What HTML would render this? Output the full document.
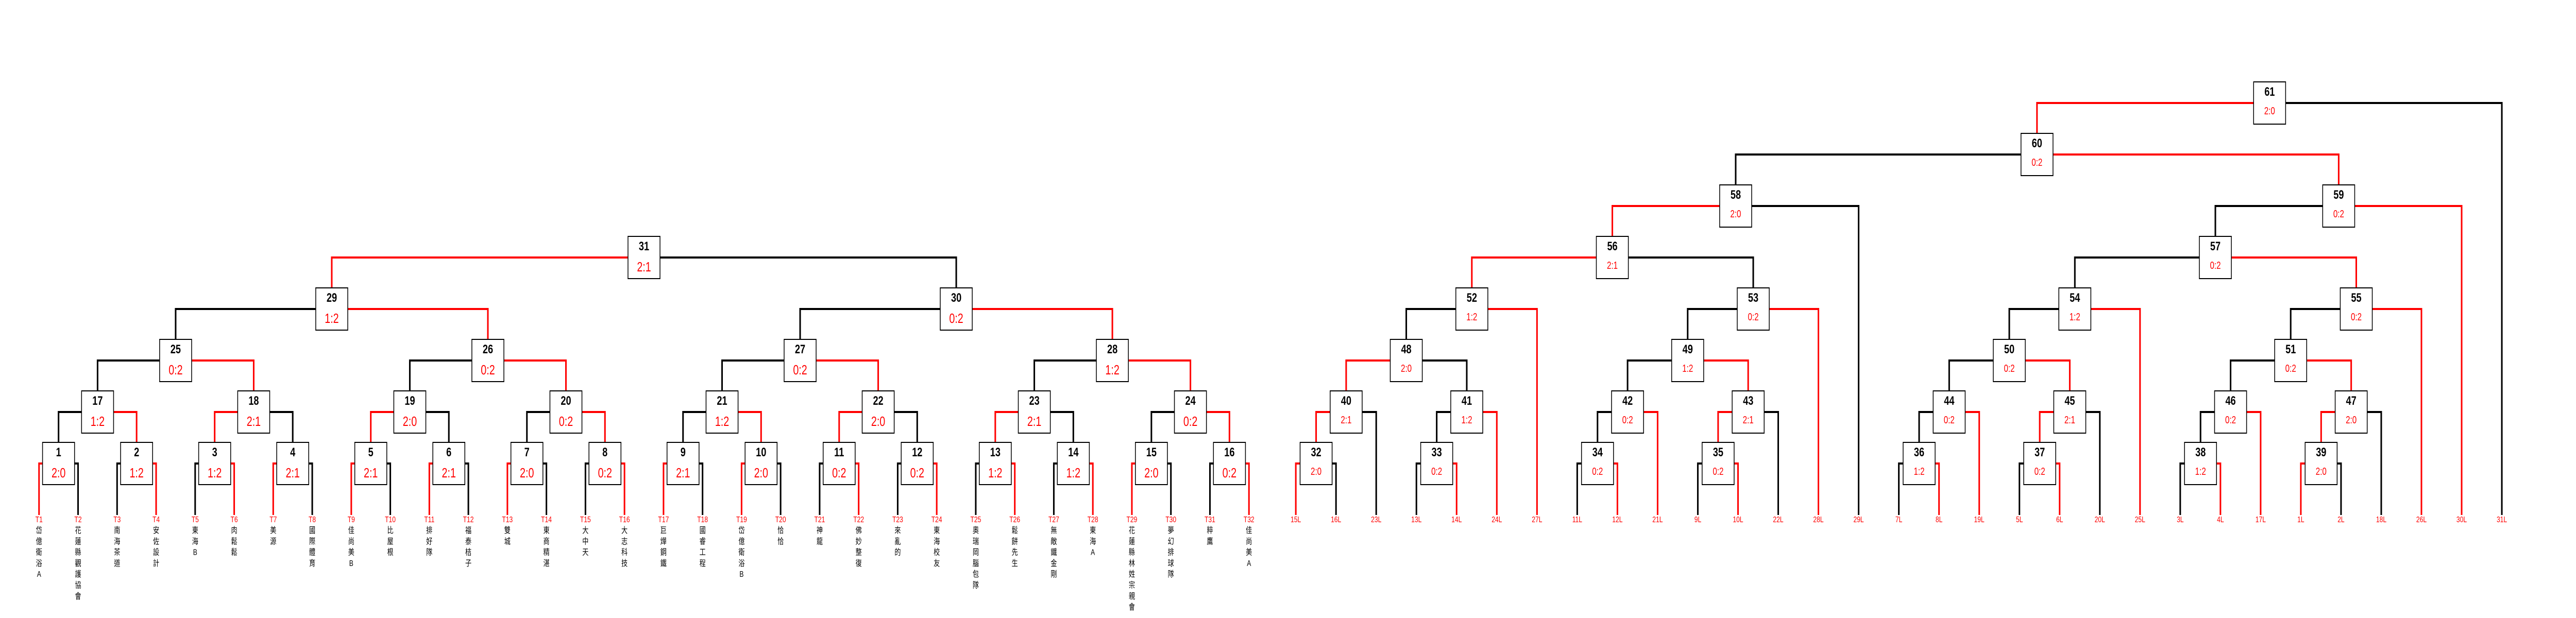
<!DOCTYPE html>
<html><head><meta charset="utf-8"><style>
html,body{margin:0;padding:0;background:#fff;width:100%;height:100%;overflow:hidden;}
svg{position:fixed;left:0;top:0;width:100vw;height:100vh;display:block;}
.k{fill:none;stroke:#000;stroke-width:4;}
.r{fill:none;stroke:#f00;stroke-width:4;}
rect{fill:#fff;stroke:#000;stroke-width:2;}
.n{font:bold 24px "Liberation Sans",sans-serif;fill:#000;text-anchor:middle;}
.s{font:26px "Liberation Sans",sans-serif;fill:#f00;text-anchor:middle;}
.s2{font:20px "Liberation Sans",sans-serif;fill:#f00;text-anchor:middle;}
.t{font:16px "Liberation Sans",sans-serif;fill:#f00;text-anchor:middle;}
.c{font-size:16px;font-family:"Liberation Sans","Noto Sans CJK TC",sans-serif;fill:#000;text-anchor:middle;}
</style></head><body>
<svg viewBox="0 0 6600 1200" preserveAspectRatio="none" xmlns="http://www.w3.org/2000/svg">
<rect x="0" y="0" width="6600" height="1200" style="fill:#fff;stroke:none"/>
<path class="r" d="M109 900H100V1000"/><path class="k" d="M191 900H200V1000"/>
<path class="k" d="M309 900H300V1000"/><path class="r" d="M391 900H400V1000"/>
<path class="k" d="M509 900H500V1000"/><path class="r" d="M591 900H600V1000"/>
<path class="r" d="M709 900H700V1000"/><path class="k" d="M791 900H800V1000"/>
<path class="r" d="M909 900H900V1000"/><path class="k" d="M991 900H1000V1000"/>
<path class="r" d="M1109 900H1100V1000"/><path class="k" d="M1191 900H1200V1000"/>
<path class="r" d="M1309 900H1300V1000"/><path class="k" d="M1391 900H1400V1000"/>
<path class="k" d="M1509 900H1500V1000"/><path class="r" d="M1591 900H1600V1000"/>
<path class="r" d="M1709 900H1700V1000"/><path class="k" d="M1791 900H1800V1000"/>
<path class="r" d="M1909 900H1900V1000"/><path class="k" d="M1991 900H2000V1000"/>
<path class="k" d="M2109 900H2100V1000"/><path class="r" d="M2191 900H2200V1000"/>
<path class="k" d="M2309 900H2300V1000"/><path class="r" d="M2391 900H2400V1000"/>
<path class="k" d="M2509 900H2500V1000"/><path class="r" d="M2591 900H2600V1000"/>
<path class="k" d="M2709 900H2700V1000"/><path class="r" d="M2791 900H2800V1000"/>
<path class="r" d="M2909 900H2900V1000"/><path class="k" d="M2991 900H3000V1000"/>
<path class="k" d="M3109 900H3100V1000"/><path class="r" d="M3191 900H3200V1000"/>
<path class="k" d="M209 800H150V859"/><path class="r" d="M291 800H350V859"/>
<path class="r" d="M609 800H550V859"/><path class="k" d="M691 800H750V859"/>
<path class="r" d="M1009 800H950V859"/><path class="k" d="M1091 800H1150V859"/>
<path class="k" d="M1409 800H1350V859"/><path class="r" d="M1491 800H1550V859"/>
<path class="k" d="M1809 800H1750V859"/><path class="r" d="M1891 800H1950V859"/>
<path class="r" d="M2209 800H2150V859"/><path class="k" d="M2291 800H2350V859"/>
<path class="r" d="M2609 800H2550V859"/><path class="k" d="M2691 800H2750V859"/>
<path class="k" d="M3009 800H2950V859"/><path class="r" d="M3091 800H3150V859"/>
<path class="k" d="M409 700H250V759"/><path class="r" d="M491 700H650V759"/>
<path class="k" d="M1209 700H1050V759"/><path class="r" d="M1291 700H1450V759"/>
<path class="k" d="M2009 700H1850V759"/><path class="r" d="M2091 700H2250V759"/>
<path class="k" d="M2809 700H2650V759"/><path class="r" d="M2891 700H3050V759"/>
<path class="k" d="M809 600H450V659"/><path class="r" d="M891 600H1250V659"/>
<path class="k" d="M2409 600H2050V659"/><path class="r" d="M2491 600H2850V659"/>
<path class="r" d="M1609 500H850V559"/><path class="k" d="M1691 500H2450V559"/>
<path class="r" d="M3331 900H3320V1000"/><path class="k" d="M3413 900H3423V1000"/>
<path class="k" d="M3640 900H3629V1000"/><path class="r" d="M3722 900H3732V1000"/>
<path class="k" d="M4052 900H4041V1000"/><path class="r" d="M4134 900H4144V1000"/>
<path class="k" d="M4361 900H4350V1000"/><path class="r" d="M4443 900H4453V1000"/>
<path class="k" d="M4876 900H4865V1000"/><path class="r" d="M4958 900H4968V1000"/>
<path class="k" d="M5185 900H5174V1000"/><path class="r" d="M5267 900H5277V1000"/>
<path class="k" d="M5597 900H5586V1000"/><path class="r" d="M5679 900H5689V1000"/>
<path class="r" d="M5906 900H5895V1000"/><path class="k" d="M5988 900H5998V1000"/>
<path class="r" d="M3408 800H3372V859"/><path class="k" d="M3490 800H3526V1000"/>
<path class="k" d="M3717 800H3681V859"/><path class="r" d="M3799 800H3835V1000"/>
<path class="k" d="M4129 800H4093V859"/><path class="r" d="M4211 800H4247V1000"/>
<path class="r" d="M4438 800H4402V859"/><path class="k" d="M4520 800H4556V1000"/>
<path class="k" d="M4953 800H4917V859"/><path class="r" d="M5035 800H5071V1000"/>
<path class="r" d="M5262 800H5226V859"/><path class="k" d="M5344 800H5380V1000"/>
<path class="k" d="M5674 800H5638V859"/><path class="r" d="M5756 800H5792V1000"/>
<path class="r" d="M5983 800H5947V859"/><path class="k" d="M6065 800H6101V1000"/>
<path class="r" d="M3562 700H3449V759"/><path class="k" d="M3644 700H3758V759"/>
<path class="k" d="M4283 700H4170V759"/><path class="r" d="M4365 700H4479V759"/>
<path class="k" d="M5107 700H4994V759"/><path class="r" d="M5189 700H5303V759"/>
<path class="k" d="M5828 700H5715V759"/><path class="r" d="M5910 700H6024V759"/>
<path class="k" d="M3730 600H3603V659"/><path class="r" d="M3812 600H3938V1000"/>
<path class="k" d="M4451 600H4324V659"/><path class="r" d="M4533 600H4659V1000"/>
<path class="k" d="M5275 600H5148V659"/><path class="r" d="M5357 600H5483V1000"/>
<path class="k" d="M5996 600H5869V659"/><path class="r" d="M6078 600H6204V1000"/>
<path class="r" d="M4090 500H3771V559"/><path class="k" d="M4172 500H4492V559"/>
<path class="k" d="M5635 500H5316V559"/><path class="r" d="M5717 500H6037V559"/>
<path class="r" d="M4406 400H4131V459"/><path class="k" d="M4488 400H4762V1000"/>
<path class="k" d="M5951 400H5676V459"/><path class="r" d="M6033 400H6307V1000"/>
<path class="k" d="M5178 300H4447V359"/><path class="r" d="M5260 300H5992V359"/>
<path class="r" d="M5774 200H5219V259"/><path class="k" d="M5856 200H6410V1000"/>

<g transform="translate(150,859)"><rect x="-41" y="0" width="82" height="82"/><text class="n" y="27">1</text><text class="s" y="68">2:0</text></g>
<g transform="translate(350,859)"><rect x="-41" y="0" width="82" height="82"/><text class="n" y="27">2</text><text class="s" y="68">1:2</text></g>
<g transform="translate(550,859)"><rect x="-41" y="0" width="82" height="82"/><text class="n" y="27">3</text><text class="s" y="68">1:2</text></g>
<g transform="translate(750,859)"><rect x="-41" y="0" width="82" height="82"/><text class="n" y="27">4</text><text class="s" y="68">2:1</text></g>
<g transform="translate(950,859)"><rect x="-41" y="0" width="82" height="82"/><text class="n" y="27">5</text><text class="s" y="68">2:1</text></g>
<g transform="translate(1150,859)"><rect x="-41" y="0" width="82" height="82"/><text class="n" y="27">6</text><text class="s" y="68">2:1</text></g>
<g transform="translate(1350,859)"><rect x="-41" y="0" width="82" height="82"/><text class="n" y="27">7</text><text class="s" y="68">2:0</text></g>
<g transform="translate(1550,859)"><rect x="-41" y="0" width="82" height="82"/><text class="n" y="27">8</text><text class="s" y="68">0:2</text></g>
<g transform="translate(1750,859)"><rect x="-41" y="0" width="82" height="82"/><text class="n" y="27">9</text><text class="s" y="68">2:1</text></g>
<g transform="translate(1950,859)"><rect x="-41" y="0" width="82" height="82"/><text class="n" y="27">10</text><text class="s" y="68">2:0</text></g>
<g transform="translate(2150,859)"><rect x="-41" y="0" width="82" height="82"/><text class="n" y="27">11</text><text class="s" y="68">0:2</text></g>
<g transform="translate(2350,859)"><rect x="-41" y="0" width="82" height="82"/><text class="n" y="27">12</text><text class="s" y="68">0:2</text></g>
<g transform="translate(2550,859)"><rect x="-41" y="0" width="82" height="82"/><text class="n" y="27">13</text><text class="s" y="68">1:2</text></g>
<g transform="translate(2750,859)"><rect x="-41" y="0" width="82" height="82"/><text class="n" y="27">14</text><text class="s" y="68">1:2</text></g>
<g transform="translate(2950,859)"><rect x="-41" y="0" width="82" height="82"/><text class="n" y="27">15</text><text class="s" y="68">2:0</text></g>
<g transform="translate(3150,859)"><rect x="-41" y="0" width="82" height="82"/><text class="n" y="27">16</text><text class="s" y="68">0:2</text></g>
<g transform="translate(250,759)"><rect x="-41" y="0" width="82" height="82"/><text class="n" y="27">17</text><text class="s" y="68">1:2</text></g>
<g transform="translate(650,759)"><rect x="-41" y="0" width="82" height="82"/><text class="n" y="27">18</text><text class="s" y="68">2:1</text></g>
<g transform="translate(1050,759)"><rect x="-41" y="0" width="82" height="82"/><text class="n" y="27">19</text><text class="s" y="68">2:0</text></g>
<g transform="translate(1450,759)"><rect x="-41" y="0" width="82" height="82"/><text class="n" y="27">20</text><text class="s" y="68">0:2</text></g>
<g transform="translate(1850,759)"><rect x="-41" y="0" width="82" height="82"/><text class="n" y="27">21</text><text class="s" y="68">1:2</text></g>
<g transform="translate(2250,759)"><rect x="-41" y="0" width="82" height="82"/><text class="n" y="27">22</text><text class="s" y="68">2:0</text></g>
<g transform="translate(2650,759)"><rect x="-41" y="0" width="82" height="82"/><text class="n" y="27">23</text><text class="s" y="68">2:1</text></g>
<g transform="translate(3050,759)"><rect x="-41" y="0" width="82" height="82"/><text class="n" y="27">24</text><text class="s" y="68">0:2</text></g>
<g transform="translate(450,659)"><rect x="-41" y="0" width="82" height="82"/><text class="n" y="27">25</text><text class="s" y="68">0:2</text></g>
<g transform="translate(1250,659)"><rect x="-41" y="0" width="82" height="82"/><text class="n" y="27">26</text><text class="s" y="68">0:2</text></g>
<g transform="translate(2050,659)"><rect x="-41" y="0" width="82" height="82"/><text class="n" y="27">27</text><text class="s" y="68">0:2</text></g>
<g transform="translate(2850,659)"><rect x="-41" y="0" width="82" height="82"/><text class="n" y="27">28</text><text class="s" y="68">1:2</text></g>
<g transform="translate(850,559)"><rect x="-41" y="0" width="82" height="82"/><text class="n" y="27">29</text><text class="s" y="68">1:2</text></g>
<g transform="translate(2450,559)"><rect x="-41" y="0" width="82" height="82"/><text class="n" y="27">30</text><text class="s" y="68">0:2</text></g>
<g transform="translate(1650,459)"><rect x="-41" y="0" width="82" height="82"/><text class="n" y="27">31</text><text class="s" y="68">2:1</text></g>

<g transform="translate(3372,859)"><rect x="-41" y="0" width="82" height="82"/><text class="n" y="27">32</text><text class="s2" y="63">2:0</text></g>
<g transform="translate(3681,859)"><rect x="-41" y="0" width="82" height="82"/><text class="n" y="27">33</text><text class="s2" y="63">0:2</text></g>
<g transform="translate(4093,859)"><rect x="-41" y="0" width="82" height="82"/><text class="n" y="27">34</text><text class="s2" y="63">0:2</text></g>
<g transform="translate(4402,859)"><rect x="-41" y="0" width="82" height="82"/><text class="n" y="27">35</text><text class="s2" y="63">0:2</text></g>
<g transform="translate(4917,859)"><rect x="-41" y="0" width="82" height="82"/><text class="n" y="27">36</text><text class="s2" y="63">1:2</text></g>
<g transform="translate(5226,859)"><rect x="-41" y="0" width="82" height="82"/><text class="n" y="27">37</text><text class="s2" y="63">0:2</text></g>
<g transform="translate(5638,859)"><rect x="-41" y="0" width="82" height="82"/><text class="n" y="27">38</text><text class="s2" y="63">1:2</text></g>
<g transform="translate(5947,859)"><rect x="-41" y="0" width="82" height="82"/><text class="n" y="27">39</text><text class="s2" y="63">2:0</text></g>
<g transform="translate(3449,759)"><rect x="-41" y="0" width="82" height="82"/><text class="n" y="27">40</text><text class="s2" y="63">2:1</text></g>
<g transform="translate(3758,759)"><rect x="-41" y="0" width="82" height="82"/><text class="n" y="27">41</text><text class="s2" y="63">1:2</text></g>
<g transform="translate(4170,759)"><rect x="-41" y="0" width="82" height="82"/><text class="n" y="27">42</text><text class="s2" y="63">0:2</text></g>
<g transform="translate(4479,759)"><rect x="-41" y="0" width="82" height="82"/><text class="n" y="27">43</text><text class="s2" y="63">2:1</text></g>
<g transform="translate(4994,759)"><rect x="-41" y="0" width="82" height="82"/><text class="n" y="27">44</text><text class="s2" y="63">0:2</text></g>
<g transform="translate(5303,759)"><rect x="-41" y="0" width="82" height="82"/><text class="n" y="27">45</text><text class="s2" y="63">2:1</text></g>
<g transform="translate(5715,759)"><rect x="-41" y="0" width="82" height="82"/><text class="n" y="27">46</text><text class="s2" y="63">0:2</text></g>
<g transform="translate(6024,759)"><rect x="-41" y="0" width="82" height="82"/><text class="n" y="27">47</text><text class="s2" y="63">2:0</text></g>
<g transform="translate(3603,659)"><rect x="-41" y="0" width="82" height="82"/><text class="n" y="27">48</text><text class="s2" y="63">2:0</text></g>
<g transform="translate(4324,659)"><rect x="-41" y="0" width="82" height="82"/><text class="n" y="27">49</text><text class="s2" y="63">1:2</text></g>
<g transform="translate(5148,659)"><rect x="-41" y="0" width="82" height="82"/><text class="n" y="27">50</text><text class="s2" y="63">0:2</text></g>
<g transform="translate(5869,659)"><rect x="-41" y="0" width="82" height="82"/><text class="n" y="27">51</text><text class="s2" y="63">0:2</text></g>
<g transform="translate(3771,559)"><rect x="-41" y="0" width="82" height="82"/><text class="n" y="27">52</text><text class="s2" y="63">1:2</text></g>
<g transform="translate(4492,559)"><rect x="-41" y="0" width="82" height="82"/><text class="n" y="27">53</text><text class="s2" y="63">0:2</text></g>
<g transform="translate(5316,559)"><rect x="-41" y="0" width="82" height="82"/><text class="n" y="27">54</text><text class="s2" y="63">1:2</text></g>
<g transform="translate(6037,559)"><rect x="-41" y="0" width="82" height="82"/><text class="n" y="27">55</text><text class="s2" y="63">0:2</text></g>
<g transform="translate(4131,459)"><rect x="-41" y="0" width="82" height="82"/><text class="n" y="27">56</text><text class="s2" y="63">2:1</text></g>
<g transform="translate(5676,459)"><rect x="-41" y="0" width="82" height="82"/><text class="n" y="27">57</text><text class="s2" y="63">0:2</text></g>
<g transform="translate(4447,359)"><rect x="-41" y="0" width="82" height="82"/><text class="n" y="27">58</text><text class="s2" y="63">2:0</text></g>
<g transform="translate(5992,359)"><rect x="-41" y="0" width="82" height="82"/><text class="n" y="27">59</text><text class="s2" y="63">0:2</text></g>
<g transform="translate(5219,259)"><rect x="-41" y="0" width="82" height="82"/><text class="n" y="27">60</text><text class="s2" y="63">0:2</text></g>
<g transform="translate(5815,159)"><rect x="-41" y="0" width="82" height="82"/><text class="n" y="27">61</text><text class="s2" y="63">2:0</text></g>

<text class="t" x="100" y="1014">T1</text><text class="t" x="200" y="1014">T2</text><text class="t" x="300" y="1014">T3</text><text class="t" x="400" y="1014">T4</text>
<text class="t" x="500" y="1014">T5</text><text class="t" x="600" y="1014">T6</text><text class="t" x="700" y="1014">T7</text><text class="t" x="800" y="1014">T8</text>
<text class="t" x="900" y="1014">T9</text><text class="t" x="1000" y="1014">T10</text><text class="t" x="1100" y="1014">T11</text><text class="t" x="1200" y="1014">T12</text>
<text class="t" x="1300" y="1014">T13</text><text class="t" x="1400" y="1014">T14</text><text class="t" x="1500" y="1014">T15</text><text class="t" x="1600" y="1014">T16</text>
<text class="t" x="1700" y="1014">T17</text><text class="t" x="1800" y="1014">T18</text><text class="t" x="1900" y="1014">T19</text><text class="t" x="2000" y="1014">T20</text>
<text class="t" x="2100" y="1014">T21</text><text class="t" x="2200" y="1014">T22</text><text class="t" x="2300" y="1014">T23</text><text class="t" x="2400" y="1014">T24</text>
<text class="t" x="2500" y="1014">T25</text><text class="t" x="2600" y="1014">T26</text><text class="t" x="2700" y="1014">T27</text><text class="t" x="2800" y="1014">T28</text>
<text class="t" x="2900" y="1014">T29</text><text class="t" x="3000" y="1014">T30</text><text class="t" x="3100" y="1014">T31</text><text class="t" x="3200" y="1014">T32</text>
<text class="t" x="3320" y="1014">15L</text><text class="t" x="3423" y="1014">16L</text><text class="t" x="3526" y="1014">23L</text><text class="t" x="3629" y="1014">13L</text>
<text class="t" x="3732" y="1014">14L</text><text class="t" x="3835" y="1014">24L</text><text class="t" x="3938" y="1014">27L</text><text class="t" x="4041" y="1014">11L</text>
<text class="t" x="4144" y="1014">12L</text><text class="t" x="4247" y="1014">21L</text><text class="t" x="4350" y="1014">9L</text><text class="t" x="4453" y="1014">10L</text>
<text class="t" x="4556" y="1014">22L</text><text class="t" x="4659" y="1014">28L</text><text class="t" x="4762" y="1014">29L</text><text class="t" x="4865" y="1014">7L</text>
<text class="t" x="4968" y="1014">8L</text><text class="t" x="5071" y="1014">19L</text><text class="t" x="5174" y="1014">5L</text><text class="t" x="5277" y="1014">6L</text>
<text class="t" x="5380" y="1014">20L</text><text class="t" x="5483" y="1014">25L</text><text class="t" x="5586" y="1014">3L</text><text class="t" x="5689" y="1014">4L</text>
<text class="t" x="5792" y="1014">17L</text><text class="t" x="5895" y="1014">1L</text><text class="t" x="5998" y="1014">2L</text><text class="t" x="6101" y="1014">18L</text>
<text class="t" x="6204" y="1014">26L</text><text class="t" x="6307" y="1014">30L</text><text class="t" x="6410" y="1014">31L</text>

<text class="c" y="1035"><tspan x="100">岱</tspan><tspan x="100" dy="21.3">億</tspan><tspan x="100" dy="21.3">衛</tspan><tspan x="100" dy="21.3">浴</tspan><tspan x="100" dy="21.3">A</tspan></text>
<text class="c" y="1035"><tspan x="200">花</tspan><tspan x="200" dy="21.3">蓮</tspan><tspan x="200" dy="21.3">縣</tspan><tspan x="200" dy="21.3">觀</tspan><tspan x="200" dy="21.3">護</tspan><tspan x="200" dy="21.3">協</tspan><tspan x="200" dy="21.3">會</tspan></text>
<text class="c" y="1035"><tspan x="300">南</tspan><tspan x="300" dy="21.3">海</tspan><tspan x="300" dy="21.3">茶</tspan><tspan x="300" dy="21.3">道</tspan></text>
<text class="c" y="1035"><tspan x="400">安</tspan><tspan x="400" dy="21.3">佐</tspan><tspan x="400" dy="21.3">設</tspan><tspan x="400" dy="21.3">計</tspan></text>
<text class="c" y="1035"><tspan x="500">東</tspan><tspan x="500" dy="21.3">海</tspan><tspan x="500" dy="21.3">B</tspan></text>
<text class="c" y="1035"><tspan x="600">肉</tspan><tspan x="600" dy="21.3">鬆</tspan><tspan x="600" dy="21.3">鬆</tspan></text>
<text class="c" y="1035"><tspan x="700">美</tspan><tspan x="700" dy="21.3">源</tspan></text>
<text class="c" y="1035"><tspan x="800">國</tspan><tspan x="800" dy="21.3">際</tspan><tspan x="800" dy="21.3">體</tspan><tspan x="800" dy="21.3">育</tspan></text>
<text class="c" y="1035"><tspan x="900">佳</tspan><tspan x="900" dy="21.3">尚</tspan><tspan x="900" dy="21.3">美</tspan><tspan x="900" dy="21.3">B</tspan></text>
<text class="c" y="1035"><tspan x="1000">比</tspan><tspan x="1000" dy="21.3">屋</tspan><tspan x="1000" dy="21.3">根</tspan></text>
<text class="c" y="1035"><tspan x="1100">排</tspan><tspan x="1100" dy="21.3">好</tspan><tspan x="1100" dy="21.3">隊</tspan></text>
<text class="c" y="1035"><tspan x="1200">福</tspan><tspan x="1200" dy="21.3">泰</tspan><tspan x="1200" dy="21.3">桔</tspan><tspan x="1200" dy="21.3">子</tspan></text>
<text class="c" y="1035"><tspan x="1300">雙</tspan><tspan x="1300" dy="21.3">城</tspan></text>
<text class="c" y="1035"><tspan x="1400">東</tspan><tspan x="1400" dy="21.3">商</tspan><tspan x="1400" dy="21.3">精</tspan><tspan x="1400" dy="21.3">湛</tspan></text>
<text class="c" y="1035"><tspan x="1500">大</tspan><tspan x="1500" dy="21.3">中</tspan><tspan x="1500" dy="21.3">天</tspan></text>
<text class="c" y="1035"><tspan x="1600">大</tspan><tspan x="1600" dy="21.3">志</tspan><tspan x="1600" dy="21.3">科</tspan><tspan x="1600" dy="21.3">技</tspan></text>
<text class="c" y="1035"><tspan x="1700">巨</tspan><tspan x="1700" dy="21.3">燁</tspan><tspan x="1700" dy="21.3">鋼</tspan><tspan x="1700" dy="21.3">鐵</tspan></text>
<text class="c" y="1035"><tspan x="1800">國</tspan><tspan x="1800" dy="21.3">睿</tspan><tspan x="1800" dy="21.3">工</tspan><tspan x="1800" dy="21.3">程</tspan></text>
<text class="c" y="1035"><tspan x="1900">岱</tspan><tspan x="1900" dy="21.3">億</tspan><tspan x="1900" dy="21.3">衛</tspan><tspan x="1900" dy="21.3">浴</tspan><tspan x="1900" dy="21.3">B</tspan></text>
<text class="c" y="1035"><tspan x="2000">恰</tspan><tspan x="2000" dy="21.3">恰</tspan></text>
<text class="c" y="1035"><tspan x="2100">神</tspan><tspan x="2100" dy="21.3">龍</tspan></text>
<text class="c" y="1035"><tspan x="2200">佛</tspan><tspan x="2200" dy="21.3">妙</tspan><tspan x="2200" dy="21.3">整</tspan><tspan x="2200" dy="21.3">復</tspan></text>
<text class="c" y="1035"><tspan x="2300">來</tspan><tspan x="2300" dy="21.3">亂</tspan><tspan x="2300" dy="21.3">的</tspan></text>
<text class="c" y="1035"><tspan x="2400">東</tspan><tspan x="2400" dy="21.3">海</tspan><tspan x="2400" dy="21.3">校</tspan><tspan x="2400" dy="21.3">友</tspan></text>
<text class="c" y="1035"><tspan x="2500">奧</tspan><tspan x="2500" dy="21.3">瑞</tspan><tspan x="2500" dy="21.3">岡</tspan><tspan x="2500" dy="21.3">腦</tspan><tspan x="2500" dy="21.3">包</tspan><tspan x="2500" dy="21.3">隊</tspan></text>
<text class="c" y="1035"><tspan x="2600">鬆</tspan><tspan x="2600" dy="21.3">餅</tspan><tspan x="2600" dy="21.3">先</tspan><tspan x="2600" dy="21.3">生</tspan></text>
<text class="c" y="1035"><tspan x="2700">無</tspan><tspan x="2700" dy="21.3">敵</tspan><tspan x="2700" dy="21.3">鐵</tspan><tspan x="2700" dy="21.3">金</tspan><tspan x="2700" dy="21.3">剛</tspan></text>
<text class="c" y="1035"><tspan x="2800">東</tspan><tspan x="2800" dy="21.3">海</tspan><tspan x="2800" dy="21.3">A</tspan></text>
<text class="c" y="1035"><tspan x="2900">花</tspan><tspan x="2900" dy="21.3">蓮</tspan><tspan x="2900" dy="21.3">縣</tspan><tspan x="2900" dy="21.3">林</tspan><tspan x="2900" dy="21.3">姓</tspan><tspan x="2900" dy="21.3">宗</tspan><tspan x="2900" dy="21.3">親</tspan><tspan x="2900" dy="21.3">會</tspan></text>
<text class="c" y="1035"><tspan x="3000">夢</tspan><tspan x="3000" dy="21.3">幻</tspan><tspan x="3000" dy="21.3">排</tspan><tspan x="3000" dy="21.3">球</tspan><tspan x="3000" dy="21.3">隊</tspan></text>
<text class="c" y="1035"><tspan x="3100">粹</tspan><tspan x="3100" dy="21.3">鷹</tspan></text>
<text class="c" y="1035"><tspan x="3200">佳</tspan><tspan x="3200" dy="21.3">尚</tspan><tspan x="3200" dy="21.3">美</tspan><tspan x="3200" dy="21.3">A</tspan></text>
</svg>
</body></html>
